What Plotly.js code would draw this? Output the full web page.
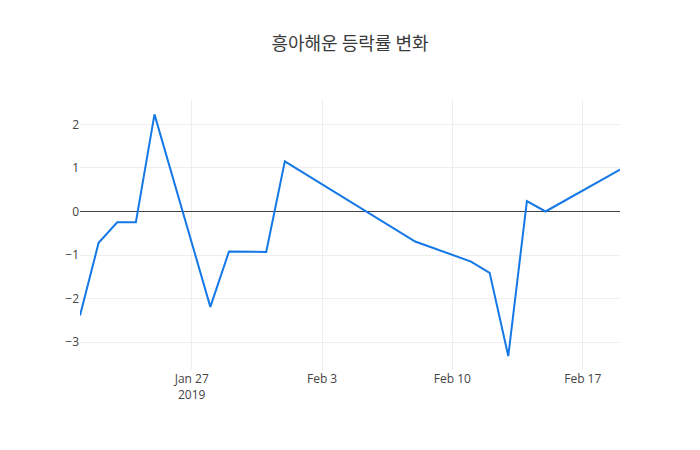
<!DOCTYPE html>
<html>
<head>
<meta charset="utf-8">
<script src="https://cdn.plot.ly/plotly-2.27.0.min.js"></script>
<style>
  body { margin: 0; background: #fff; }
  #graph { width: 700px; height: 450px; }
</style>
</head>
<body>
<div id="graph"></div>
<script>
// trading days and daily change (%)
var dates = ['2019-01-21', '2019-01-22', '2019-01-23', '2019-01-24', '2019-01-25',
             '2019-01-28', '2019-01-29', '2019-01-31', '2019-02-01',
             '2019-02-08', '2019-02-11', '2019-02-12', '2019-02-13',
             '2019-02-14', '2019-02-15', '2019-02-19'];
var changes = [-2.39, -0.72, -0.25, -0.25, 2.23,
               -2.19, -0.92, -0.93, 1.15,
               -0.69, -1.15, -1.41, -3.32,
               0.24, 0.0, 0.96];

var trace = {
    x: dates,
    y: changes,
    type: 'scatter',
    mode: 'lines',
    line: { color: '#1478e6', width: 2 }
};

var layout = {
    width: 700,
    height: 450,
    font: { family: '"Open Sans", "Noto Sans CJK KR", sans-serif', color: '#444', size: 12 },
    title: {
        text: '흥아해운 등락률 변화',
        font: { family: '"Noto Sans CJK KR", sans-serif', size: 18, color: '#3a3a3a' }
    },
    margin: { l: 80, r: 80, t: 100, b: 80 },
    showlegend: false,
    xaxis: {
        type: 'date',
        range: ['2019-01-21', '2019-02-19'],
        gridcolor: '#eee',
        zeroline: false
    },
    yaxis: {
        range: [-3.64, 2.56],
        dtick: 1,
        gridcolor: '#eee',
        zeroline: true,
        zerolinecolor: '#444',
        zerolinewidth: 1
    },
    plot_bgcolor: '#fff',
    paper_bgcolor: '#fff'
};

Plotly.newPlot('graph', [trace], layout, { displayModeBar: false });
</script>
</body>
</html>
